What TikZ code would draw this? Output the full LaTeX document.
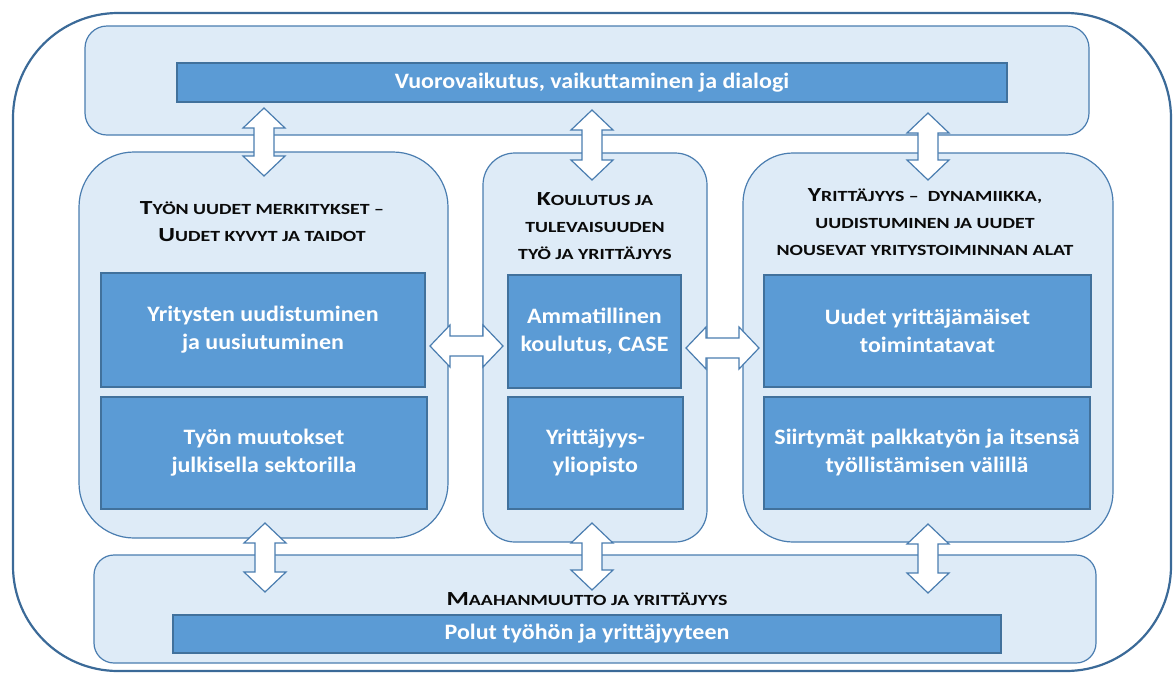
\documentclass[tikz,border=0pt]{standalone}
\usepackage{fontspec}
\setmainfont{Carlito}
\newfontfamily\bodyfont[FakeStretch=1.09]{Carlito}
\newfontfamily\titlefont[FakeStretch=1.28]{Carlito}
\usetikzlibrary{calc}
\definecolor{boxblue}{HTML}{5B9BD5}
\definecolor{boxline}{HTML}{41719C}
\definecolor{panelfill}{HTML}{DEEBF7}
\definecolor{panelline}{HTML}{4A7DB0}
\definecolor{outerline}{HTML}{3B6A98}
\definecolor{titlecol}{HTML}{0A0A0A}
\newcommand\bigC[1]{{\fontsize{20}{27}\selectfont #1}}
\begin{document}
\begin{tikzpicture}[x=1pt,y=-1pt,
  outerbox/.style={draw=outerline, line width=2.2pt, fill=white, rounded corners=105pt, inner sep=0pt},
  panel/.style={draw=panelline, line width=1.2pt, fill=panelfill, inner sep=0pt},
  bluebox/.style={draw=boxline, line width=1.2pt, fill=boxblue, text=white, align=center, inner sep=0pt,
    font=\bodyfont\bfseries\fontsize{22}{28}\selectfont},
  ttl/.style={align=center, text=titlecol, inner sep=0pt,
    font=\titlefont\bfseries\fontsize{15.5}{27}\selectfont},
  fatarrow/.style={draw=panelline, line width=1.2pt, fill=white, to path={
    -- ($(\tikztostart)!20pt!(\tikztotarget)!21pt!90:(\tikztotarget)$)
    -- ($(\tikztostart)!20pt!(\tikztotarget)!10pt!90:(\tikztotarget)$)
    -- ($(\tikztotarget)!20pt!(\tikztostart)!10pt!-90:(\tikztostart)$)
    -- ($(\tikztotarget)!20pt!(\tikztostart)!21pt!-90:(\tikztostart)$)
    -- (\tikztotarget)
    -- ($(\tikztotarget)!20pt!(\tikztostart)!21pt!90:(\tikztostart)$)
    -- ($(\tikztotarget)!20pt!(\tikztostart)!10pt!90:(\tikztostart)$)
    -- ($(\tikztostart)!20pt!(\tikztotarget)!10pt!-90:(\tikztotarget)$)
    -- ($(\tikztostart)!20pt!(\tikztotarget)!21pt!-90:(\tikztotarget)$)
    -- cycle}}
]
\useasboundingbox (0,0) rectangle (1173,673);
\fill[white] (0,0) rectangle (1173,673);
% outer frame
\node[outerbox, minimum width=1158pt, minimum height=658pt] (outer) at (592,342) {};
% top panel
\node[panel, rounded corners=22pt, minimum width=1004pt, minimum height=109pt] (top) at (587,80.5) {};
\node[bluebox, minimum width=830pt, minimum height=39pt] (topbar) at (592,82.5) {Vuorovaikutus, vaikuttaminen ja dialogi};
% bottom panel
\node[panel, rounded corners=20pt, minimum width=1002pt, minimum height=108pt] (bottom) at (595,609) {};
\node[ttl] (bottomtitle) at (587,599) {\bigC{M}AAHANMUUTTO JA YRITTÄJYYS};
\node[bluebox, minimum width=828pt, minimum height=38pt] (botbar) at (587,634) {Polut työhön ja yrittäjyyteen};
% left panel
\node[panel, rounded corners=55pt, minimum width=369pt, minimum height=386pt] (left) at (263.5,345) {};
\node[ttl] (lefttitle) at (262,222) {\bigC{T}YÖN UUDET MERKITYKSET –\\\bigC{U}UDET KYVYT JA TAIDOT};
\node[bluebox, minimum width=324pt, minimum height=114pt] (L1) at (263,330) {Yritysten uudistuminen\\ja uusiutuminen};
\node[bluebox, minimum width=326pt, minimum height=112pt] (L2) at (264,453) {Työn muutokset\\julkisella sektorilla};
% middle panel
\node[panel, rounded corners=32pt, minimum width=224pt, minimum height=389pt] (mid) at (595,347.5) {};
\node[ttl] (midtitle) at (595,226) {\bigC{K}OULUTUS JA\\TULEVAISUUDEN\\TYÖ JA YRITTÄJYYS};
\node[bluebox, minimum width=173pt, minimum height=113pt] (M1) at (594.5,331.5) {Ammatillinen\\koulutus, CASE};
\node[bluebox, minimum width=175pt, minimum height=112pt] (M2) at (595.5,453) {Yrittäjyys-\\yliopisto};
% right panel
\node[panel, rounded corners=50pt, minimum width=370pt, minimum height=389pt] (right) at (928,347.5) {};
\node[ttl] (righttitle) at (925,222) {\bigC{Y}RITTÄJYYS –\ \ DYNAMIIKKA,\\UUDISTUMINEN JA UUDET\\NOUSEVAT YRITYSTOIMINNAN ALAT};
\node[bluebox, minimum width=327pt, minimum height=112pt] (R1) at (927.5,331) {Uudet yrittäjämäiset\\toimintatavat};
\node[bluebox, minimum width=326pt, minimum height=112pt] (R2) at (927,453) {Siirtymät palkkatyön ja itsensä\\työllistämisen välillä};
% arrow end points
\coordinate (a1s) at (264,108);  \coordinate (a1e) at (264,176);
\coordinate (a2s) at (592,110);  \coordinate (a2e) at (592,180);
\coordinate (a3s) at (928,113);  \coordinate (a3e) at (928,180);
\coordinate (a4s) at (265,523);  \coordinate (a4e) at (265,592);
\coordinate (a5s) at (592,523);  \coordinate (a5e) at (592,590);
\coordinate (a6s) at (928,524);  \coordinate (a6e) at (928,593);
\coordinate (h1s) at (430,346);  \coordinate (h1e) at (503,346);
\coordinate (h2s) at (686,348);  \coordinate (h2e) at (759,348);
\draw[fatarrow] (a1s) to (a1e);
\draw[fatarrow] (a2s) to (a2e);
\draw[fatarrow] (a3s) to (a3e);
\draw[fatarrow] (a4s) to (a4e);
\draw[fatarrow] (a5s) to (a5e);
\draw[fatarrow] (a6s) to (a6e);
\draw[fatarrow] (h1s) to (h1e);
\draw[fatarrow] (h2s) to (h2e);
\end{tikzpicture}
\end{document}
